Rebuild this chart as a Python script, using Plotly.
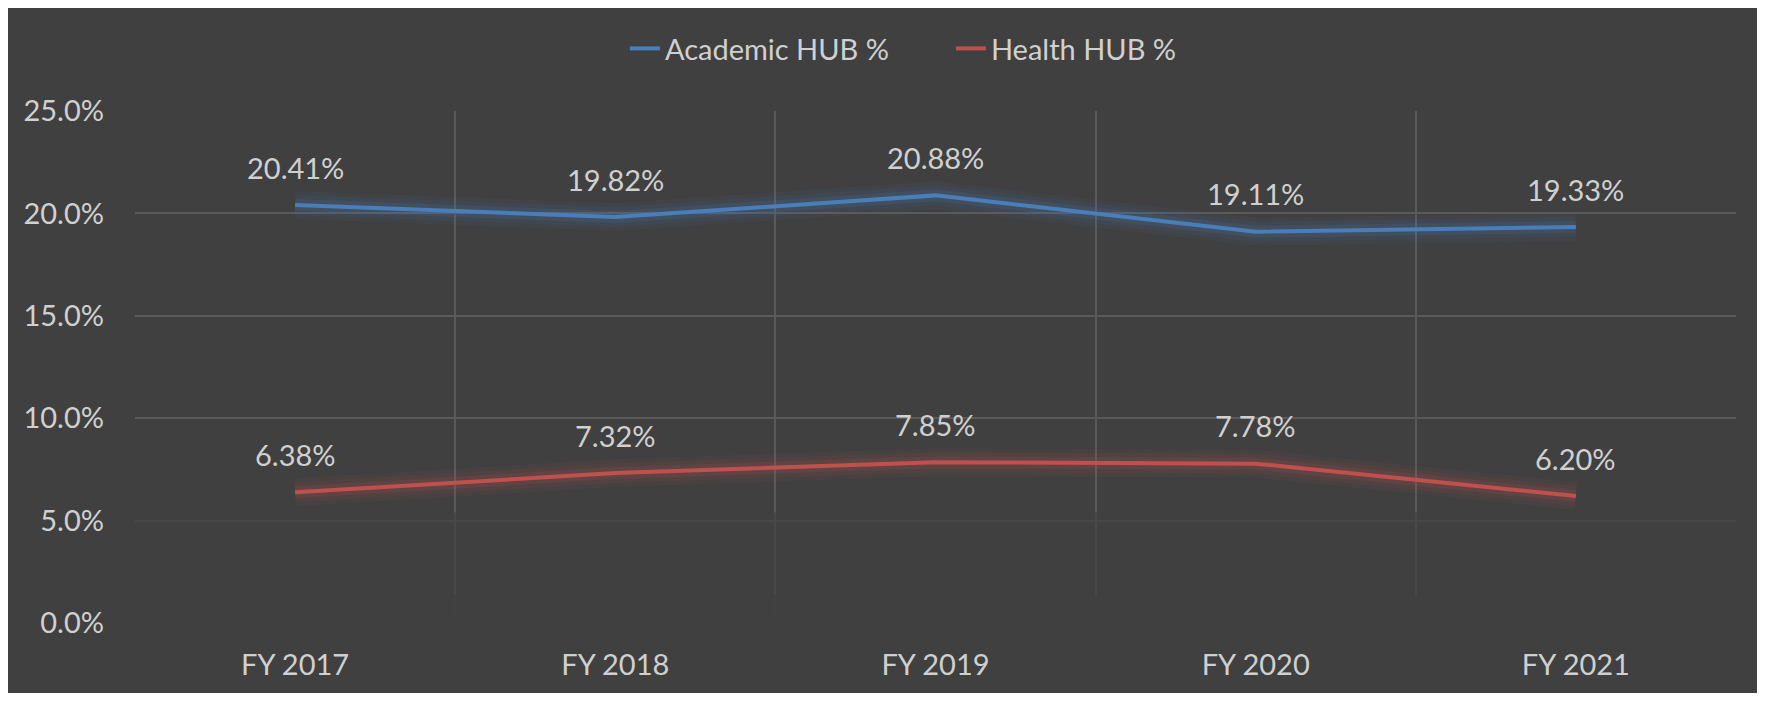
import plotly.graph_objects as go

years = ["FY 2017", "FY 2018", "FY 2019", "FY 2020", "FY 2021"]
academic_hub = [20.41, 19.82, 20.88, 19.11, 19.33]
health_hub = [6.38, 7.32, 7.85, 7.78, 6.20]

y_ticks = [0, 5, 10, 15, 20, 25]
y_tick_text = ["0.0%", "5.0%", "10.0%", "15.0%", "20.0%", "25.0%"]

BG = "#404040"
GRID = "#5a5a5a"
TEXT = "#d0d0d0"
FONT = "Lato, 'Open Sans', sans-serif"
FS = 29

series = [
    ("Academic HUB %", academic_hub, "#4a7ebb", (74, 126, 187)),
    ("Health HUB %", health_hub, "#c0504d", (192, 80, 77)),
]

fig = go.Figure()

# soft glow under each line (a few stacked translucent strokes)
for name, vals, color, rgb in series:
    for w, a in [(28, 0.06), (20, 0.09), (12, 0.14)]:
        fig.add_trace(go.Scatter(
            x=years, y=vals, mode="lines",
            line=dict(color=f"rgba({rgb[0]},{rgb[1]},{rgb[2]},{a})", width=w),
            showlegend=False, hoverinfo="skip",
        ))

for name, vals, color, rgb in series:
    fig.add_trace(go.Scatter(
        x=years, y=vals, mode="lines", name=name,
        line=dict(color=color, width=4),
    ))
    for x, v in zip(years, vals):
        fig.add_annotation(
            x=x, y=v, text=f"{v:.2f}%", showarrow=False,
            yshift=38, font=dict(size=FS, color=TEXT, family=FONT),
        )

# faded lower band of the plot area (gridlines fade out toward the bottom)
fig.add_shape(type="rect", xref="paper", yref="y", x0=0, x1=1, y0=-0.3, y1=1.4,
              fillcolor=BG, opacity=0.95, line_width=0, layer="above")
fig.add_shape(type="rect", xref="paper", yref="y", x0=0, x1=1, y0=1.4, y1=5.4,
              fillcolor=BG, opacity=0.7, line_width=0, layer="above")

fig.update_layout(
    width=1749, height=685,
    paper_bgcolor=BG, plot_bgcolor=BG,
    margin=dict(l=127, r=21, t=103, b=65),
    font=dict(family=FONT, size=FS, color=TEXT),
    showlegend=True,
    legend=dict(
        orientation="h", x=0.306, xanchor="left", y=1.122, yanchor="middle",
        font=dict(size=FS, color=TEXT), bgcolor="rgba(0,0,0,0)",
        entrywidth=281, entrywidthmode="pixels",
    ),
)

fig.update_xaxes(
    type="category", range=[-0.5, 4.5],
    showgrid=True, gridcolor=GRID, gridwidth=1.5, tickson="boundaries",
    ticks="", showline=False, zeroline=False,
    ticklabelstandoff=22, tickfont=dict(size=FS, color=TEXT),
)
fig.update_yaxes(
    range=[0, 25], tickvals=y_ticks, ticktext=y_tick_text,
    showgrid=True, gridcolor=GRID, gridwidth=1.5,
    zeroline=False, showline=False, ticks="",
    ticklabelstandoff=30, tickfont=dict(size=FS, color=TEXT),
)

fig.write_html("out.html")
